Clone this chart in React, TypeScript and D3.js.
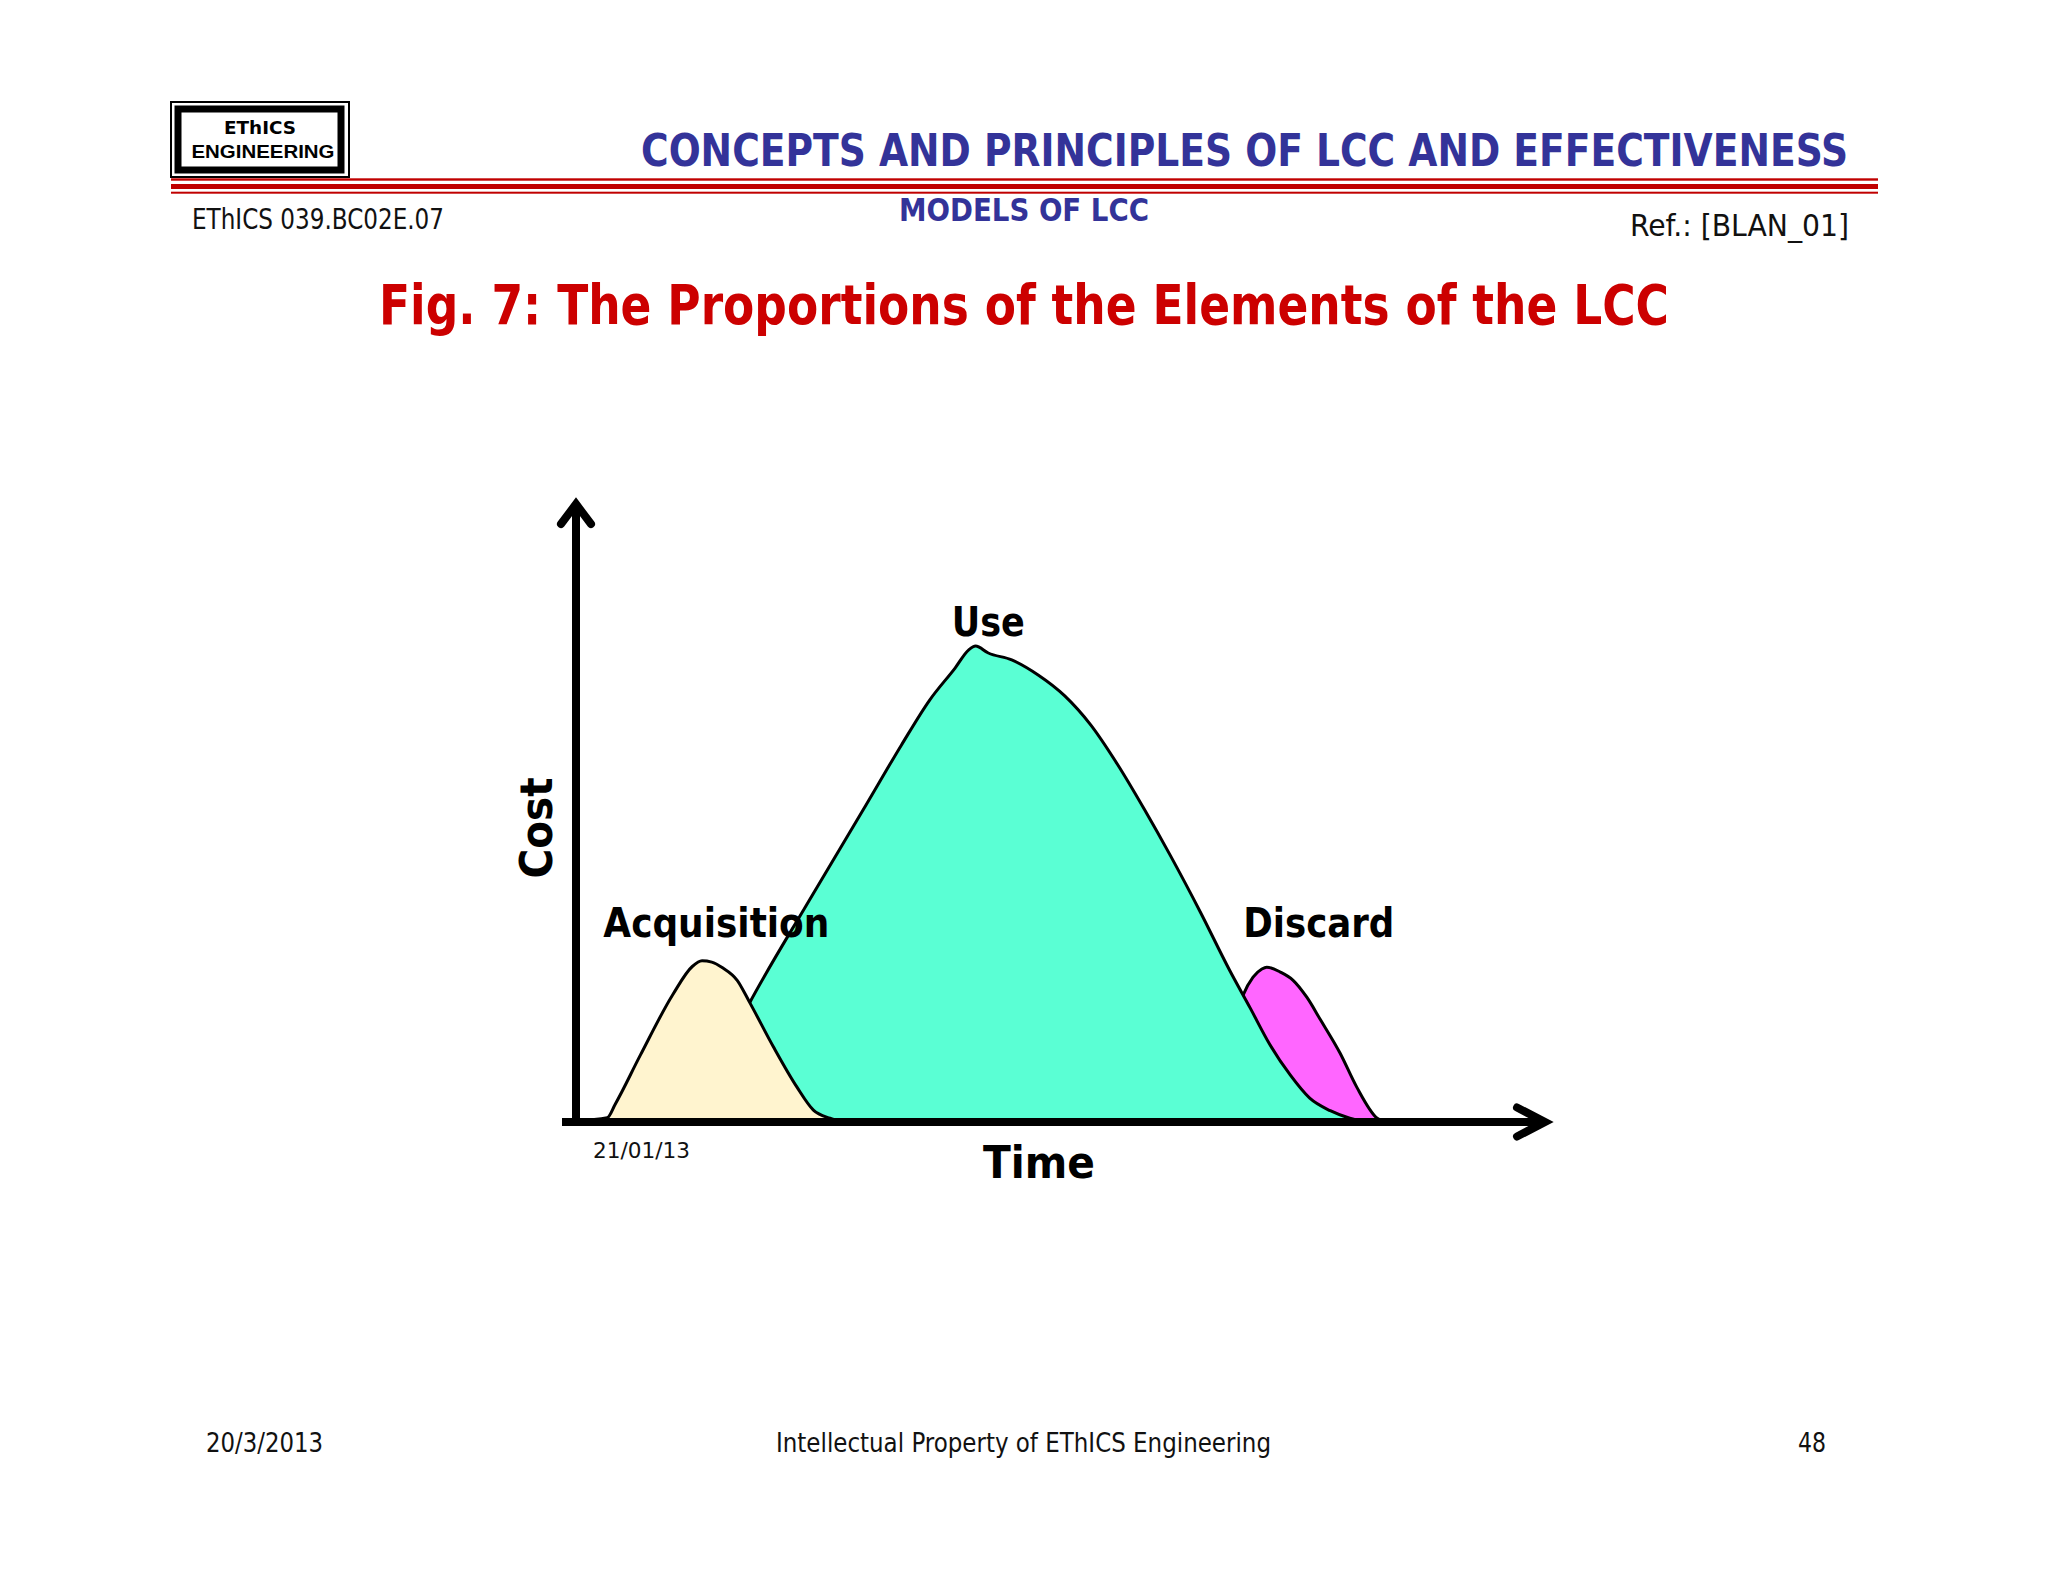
import React from "react";
import * as d3 from "d3";

// ---- data (time, cost) in chart units ----
const acquisition: [number, number][] = [
  [0, 0.2], [3.2, 0.7], [4.0, 2.8], [6.6, 10.7], [9.9, 20.3], [11.9, 24.8], [12.9, 25.7],
  [13.9, 25.5], [15.0, 24.6], [16.5, 22.6], [17.8, 19.0], [20.2, 12.0],
  [22.6, 5.6], [24.3, 1.9], [26.0, 0.6], [27.5, 0],
];
const use: [number, number][] = [
  [11.7, 0], [17.8, 19.1], [23.7, 34.9], [29.7, 50.6], [33.3, 60.1], [36.2, 67.3],
  [38.8, 72.4], [40.2, 75.3], [40.9, 75.9], [42.2, 74.8], [44.6, 73.7],
  [47.3, 71.3], [50.0, 68.0], [52.7, 63.3], [55.4, 57.1], [58.2, 49.8],
  [60.8, 42.6], [63.9, 33.5], [66.9, 24.2], [69.0, 18.2], [71.0, 12.4],
  [73.1, 7.5], [75.1, 3.8], [77.2, 1.8], [79.2, 0.6], [80.8, 0],
];
const discard: [number, number][] = [
  [65.4, 0], [68.3, 20.3], [69.3, 23.1], [70.2, 24.4], [70.7, 24.7], [72.1, 23.9],
  [73.4, 22.6], [74.8, 19.9], [76.2, 16.3], [78.2, 11.0], [79.9, 5.6],
  [82.0, 0.6], [82.8, 0],
];
const seriesNames = ["Discard", "Use", "Acquisition"];
const seriesColors = ["#FF66FF", "#5AFFD4", "#FFF4CF"];
// label anchors (time, cost)
const labelPos: [number, number][] = [[68.3, 29.5], [42.2, 77.5], [2.8, 29.5]];
const labelAnchor = ["start", "middle", "start"];
const labelLen = [151, 73, 226];

const xScale = d3.scaleLinear().domain([0, 100]).range([576, 1553]);
const yScale = d3.scaleLinear().domain([0, 100]).range([1122, 495]);

const curve = d3.curveMonotoneX;
const areaGen = d3
  .area<[number, number]>()
  .x((d) => xScale(d[0]))
  .y0(yScale(0))
  .y1((d) => yScale(d[1]))
  .curve(curve);
const lineGen = d3
  .line<[number, number]>()
  .x((d) => xScale(d[0]))
  .y((d) => yScale(d[1]))
  .curve(curve);

const NAVY = "#333399";
const RED = "#CC0000";
const SANS = "'DejaVu Sans Condensed', 'DejaVu Sans', Verdana, sans-serif";

export default function App() {
  const series = [discard, use, acquisition];
  const x0 = xScale(0);
  const y0 = yScale(0);
  const yTop = yScale(100);
  const xEnd = xScale(100);
  return (
    <svg
      width={2048}
      height={1582}
      style={{ position: "absolute", left: 0, top: 0, background: "#fff" }}
      xmlns="http://www.w3.org/2000/svg"
    >
      <rect x={0} y={0} width={2048} height={1582} fill="#ffffff" />

      {/* logo */}
      <rect x={171} y={102} width={178} height={75} fill="none" stroke="#000" strokeWidth={2} />
      <rect x={178} y={109} width={163} height={61} fill="#fff" stroke="#000" strokeWidth={7} />
      <text x={260} y={134} textAnchor="middle" fontFamily="'DejaVu Sans', sans-serif" fontWeight="bold" fontSize={17} fill="#000" textLength={72} lengthAdjust="spacingAndGlyphs">EThICS</text>
      <text x={263} y={158} textAnchor="middle" fontFamily="'Liberation Sans', Arial, sans-serif" fontWeight="bold" fontSize={18} fill="#000" textLength={143} lengthAdjust="spacingAndGlyphs">ENGINEERING</text>

      {/* header lines */}
      <rect x={171} y={178.3} width={1707} height={2.4} fill="#C00000" />
      <rect x={171} y={184} width={1707} height={5} fill="#C00000" />
      <rect x={171} y={191.7} width={1707} height={2} fill="#C00000" />

      {/* header texts */}
      <text x={641} y={166} fontFamily={SANS} fontWeight="bold" fontSize={45} fill={NAVY} textLength={1207} lengthAdjust="spacingAndGlyphs">CONCEPTS AND PRINCIPLES OF LCC AND EFFECTIVENESS</text>
      <text x={899} y={221} fontFamily={SANS} fontWeight="bold" fontSize={32} fill={NAVY} textLength={250} lengthAdjust="spacingAndGlyphs">MODELS OF LCC</text>
      <text x={192} y={229} fontFamily={SANS} fontSize={28} fill="#111" textLength={252} lengthAdjust="spacingAndGlyphs">EThICS 039.BC02E.07</text>
      <text x={1630} y={236} fontFamily={SANS} fontSize={31} fill="#111" textLength={219} lengthAdjust="spacingAndGlyphs">Ref.: [BLAN_01]</text>

      <text x={379} y={324} fontFamily="'DejaVu Sans', Verdana, sans-serif" fontWeight="bold" fontSize={56} fill={RED} textLength={1290} lengthAdjust="spacingAndGlyphs">Fig. 7: The Proportions of the Elements of the LCC</text>

      {/* areas */}
      {series.map((s, i) => (
        <g key={seriesNames[i]}>
          <path d={areaGen(s) || ""} fill={seriesColors[i]} stroke="none" />
          <path d={lineGen(s) || ""} fill="none" stroke="#000" strokeWidth={3} strokeLinejoin="round" />
        </g>
      ))}

      {/* axes */}
      <line x1={562} y1={y0} x2={xEnd - 8} y2={y0} stroke="#000" strokeWidth={8} />
      <polyline
        points={`${xEnd - 36},${y0 - 14.5} ${xEnd - 8},${y0} ${xEnd - 36},${y0 + 14.5}`}
        fill="none" stroke="#000" strokeWidth={8} strokeLinecap="round" strokeLinejoin="miter"
      />
      <line x1={x0} y1={y0 + 4} x2={x0} y2={yTop + 9} stroke="#000" strokeWidth={8} />
      <polyline
        points={`${x0 - 15},${yTop + 29} ${x0},${yTop + 9} ${x0 + 15},${yTop + 29}`}
        fill="none" stroke="#000" strokeWidth={8} strokeLinecap="round" strokeLinejoin="miter"
      />

      {/* series labels */}
      {seriesNames.map((n, i) => (
        <text
          key={"l" + n}
          x={xScale(labelPos[i][0])}
          y={yScale(labelPos[i][1])}
          textAnchor={labelAnchor[i] as any}
          fontFamily={SANS}
          fontWeight="bold"
          fontSize={41}
          fill="#000"
          textLength={labelLen[i]}
          lengthAdjust="spacingAndGlyphs"
        >
          {n}
        </text>
      ))}

      {/* axis titles */}
      <text x={1039} y={1178} textAnchor="middle" fontFamily={SANS} fontWeight="bold" fontSize={44} fill="#000" textLength={112} lengthAdjust="spacingAndGlyphs">Time</text>
      <text transform="translate(552,828) rotate(-90)" textAnchor="middle" fontFamily={SANS} fontWeight="bold" fontSize={44} fill="#000" textLength={101} lengthAdjust="spacingAndGlyphs">Cost</text>
      <text x={593} y={1158} fontFamily={SANS} fontSize={22} fill="#111" textLength={97} lengthAdjust="spacingAndGlyphs">21/01/13</text>

      {/* footer */}
      <text x={206} y={1452} fontFamily={SANS} fontSize={26} fill="#111" textLength={117} lengthAdjust="spacingAndGlyphs">20/3/2013</text>
      <text x={776} y={1452} fontFamily={SANS} fontSize={26} fill="#111" textLength={495} lengthAdjust="spacingAndGlyphs">Intellectual Property of EThICS Engineering</text>
      <text x={1798} y={1452} fontFamily={SANS} fontSize={26} fill="#111" textLength={28} lengthAdjust="spacingAndGlyphs">48</text>
    </svg>
  );
}
